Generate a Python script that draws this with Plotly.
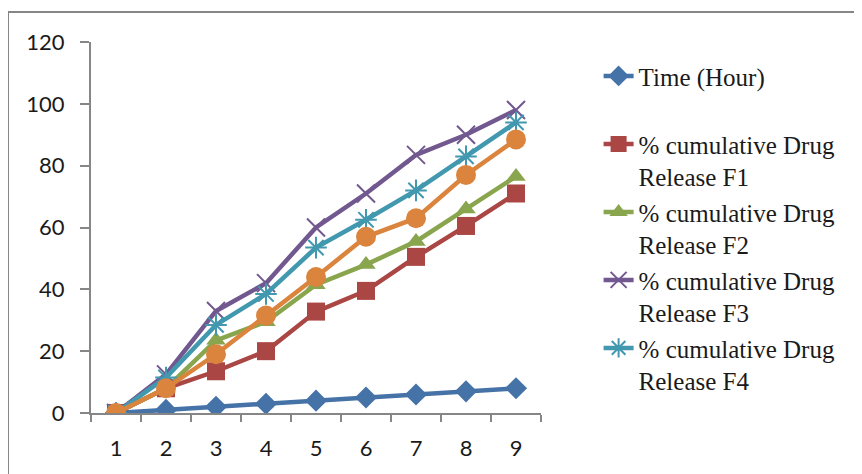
import plotly.graph_objects as go

categories = ["1", "2", "3", "4", "5", "6", "7", "8", "9"]
time_hour = [0, 1, 2, 3, 4, 5, 6, 7, 8]
f1 = [0, 8, 13.5, 20, 32.8, 39.5, 50.5, 60.5, 71]
f2 = [0, 8, 23.5, 29.5, 41.5, 48, 55.5, 66, 76.5]
f3 = [0, 12.5, 33, 42, 60, 71, 83.5, 90, 98]
f4 = [0, 11.5, 28.5, 38.5, 53.5, 62.5, 72, 83, 94]
f5 = [0, 8, 19, 31.5, 44, 57, 63, 77, 88.5]

names = ["Time (Hour)<br> ",
         "% cumulative Drug<br>Release F1",
         "% cumulative Drug<br>Release F2",
         "% cumulative Drug<br>Release F3",
         "% cumulative Drug<br>Release F4",
         "% cumulative Drug<br>Release F5"]
colors = ["#4572A7", "#AA4643", "#89A54E", "#71588F", "#4198AF", "#DB843D"]
series = [time_hour, f1, f2, f3, f4, f5]
symbols = ["diamond", "square", "triangle-up", "x-thin-open", "asterisk-open", "circle"]
sizes = [17, 18, 17, 18, 18, 20]

fig = go.Figure()
for i, (nm, col, ys, sym, sz) in enumerate(zip(names, colors, series, symbols, sizes)):
    marker = dict(symbol=sym, size=sz, color=col)
    if sym.endswith("open"):
        marker["line"] = dict(color=col, width=2)
    fig.add_trace(go.Scatter(
        x=categories, y=ys, name=nm, mode="lines+markers",
        line=dict(color=col, width=4.5), marker=marker,
        showlegend=(i < 5),
    ))

# page body has an 8px margin, so the figure is offset by 8px
W, H = 854, 466
L, T = 83, 34
PW, PH = 450, 371
axis_gray = "#868686"
fig.update_layout(
    width=W, height=H,
    margin=dict(l=L, r=W - L - PW, t=T, b=H - T - PH),
    paper_bgcolor="white", plot_bgcolor="white",
    font=dict(family="Lato, sans-serif", size=22, color="#1a1a1a"),
    xaxis=dict(type="category", range=[-0.5, 8.5], showgrid=False, zeroline=False,
               showline=True, linecolor=axis_gray, linewidth=2,
               ticks="outside", ticklen=7, tickwidth=2, tickcolor=axis_gray,
               tickson="boundaries", ticklabelstandoff=15),
    yaxis=dict(range=[0, 120], dtick=20, showgrid=False, zeroline=False,
               showline=True, linecolor=axis_gray, linewidth=2,
               ticks="outside", ticklen=9, tickwidth=2, tickcolor=axis_gray,
               ticklabelstandoff=11),
    legend=dict(x=1.128, xanchor="left", y=0.97, yanchor="top",
                font=dict(family="Liberation Serif, Times New Roman, serif", size=25, color="#1a1a1a"),
                valign="top", bgcolor="rgba(0,0,0,0)"),
    shapes=[dict(type="rect", xref="paper", yref="paper",
                 x0=(0 - L) / PW, x1=(880 - L) / PW,
                 y0=(PH + T - 490) / PH, y1=(PH + T - 4) / PH,
                 line=dict(color=axis_gray, width=2), fillcolor="rgba(0,0,0,0)",
                 layer="below")],
)

fig.write_html("out.html")
